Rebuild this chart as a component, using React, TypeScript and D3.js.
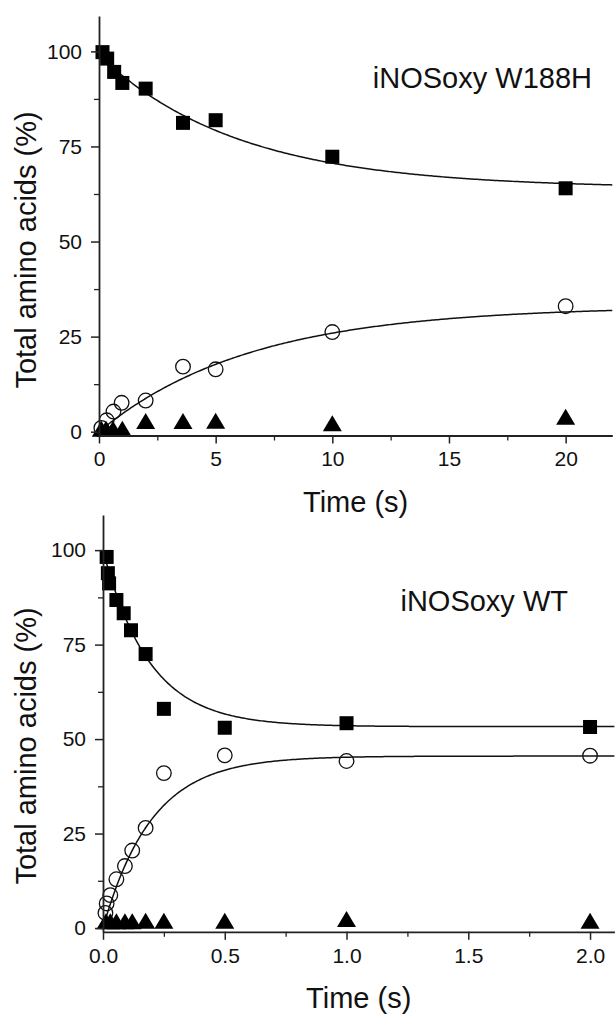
import React, { useEffect, useRef } from "react";
import * as d3 from "d3";

// Panel A: iNOSoxy W188H (time in s)
const timeW188H = [0.15, 0.35, 0.65, 1, 2, 3.6, 5, 10, 20];
const substrateW188H = [99.8, 98.1, 94.6, 91.7, 90.2, 81.2, 81.9, 72.3, 64];
const timeW188HCircle = [0.1, 0.33, 0.62, 0.97, 2, 3.6, 5, 10, 20];
const productW188H = [1, 3, 5.3, 7.6, 8.2, 17.1, 16.4, 26.2, 33];
const timeW188HTri = [0.1, 0.3, 0.6, 1, 2, 3.6, 5, 10, 20];
const minorW188H = [0.8, 0.8, 0.8, 0.8, 2.8, 2.8, 2.9, 2.2, 3.9];

// Panel B: iNOSoxy WT (time in s)
const timeWT = [0.015, 0.02, 0.025, 0.055, 0.085, 0.115, 0.175, 0.25, 0.5, 1, 2];
const substrateWT = [98.2, 93.9, 91.2, 86.8, 83.3, 78.8, 72.5, 58, 53, 54.2, 53.2];
const timeWTCircle = [0.01, 0.015, 0.03, 0.055, 0.09, 0.12, 0.175, 0.25, 0.5, 1, 2];
const productWT = [4, 6.5, 8.7, 12.9, 16.4, 20.5, 26.5, 41, 45.7, 44.2, 45.6];
const timeWTTri = [0.012, 0.03, 0.055, 0.09, 0.12, 0.175, 0.25, 0.5, 1, 2];
const minorWT = [1.8, 1.8, 1.8, 1.8, 1.8, 1.9, 1.9, 1.9, 2.4, 1.9];

// Single-exponential fit parameters: [plateau, amplitude, tau (s)]
const fitSubstrateW188H = [64, 35, 6];
const fitProductW188H = [33, 33, 6.5];
const fitSubstrateWT = [53.3, 46.7, 0.19];
const fitProductWT = [45.5, 45.5, 0.2];

const yTicks = [0, 25, 50, 75, 100];
const xTicksW188H = [0, 5, 10, 15, 20];
const xTicksWT = [0, 0.5, 1.0, 1.5, 2.0];

const FONT = "Arial, 'Liberation Sans', Helvetica, sans-serif";

type PanelProps = {
  xDomain: [number, number];
  xRange: [number, number];
  yRange: [number, number];
  xTicks: number[];
  xMinorStep: number;
  xFormat: (v: number) => string;
  sq: [number[], number[]];
  ci: [number[], number[]];
  tr: [number[], number[]];
  fitDown: number[];
  fitUp: number[];
  label: string;
  labelX: number;
  labelY: number;
  titleY: number;
  yTitleCenter: number;
};

function Panel(p: PanelProps) {
  const xAxisRef = useRef<SVGGElement>(null);
  const yAxisRef = useRef<SVGGElement>(null);
  const xMinRef = useRef<SVGGElement>(null);
  const yMinRef = useRef<SVGGElement>(null);

  const x = d3.scaleLinear().domain(p.xDomain).range(p.xRange);
  const y = d3.scaleLinear().domain([-1, 109.3]).range(p.yRange);

  useEffect(() => {
    const xa = d3
      .axisBottom(x)
      .tickValues(p.xTicks)
      .tickFormat((d) => p.xFormat(d as number))
      .tickSize(8)
      .tickSizeOuter(0)
      .tickPadding(8);
    const ya = d3
      .axisLeft(y)
      .tickValues(yTicks)
      .tickSize(8)
      .tickSizeOuter(0)
      .tickPadding(9);
    const xMinor = d3.range(p.xDomain[0], p.xDomain[1] + 1e-9, p.xMinorStep).filter(
      (v) => !p.xTicks.some((t) => Math.abs(t - v) < 1e-9)
    );
    const yMinor = [12.5, 37.5, 62.5, 87.5];
    const style = (g: d3.Selection<SVGGElement, unknown, null, undefined>) => {
      g.selectAll("path").attr("stroke", "#222").attr("stroke-width", 1.8);
      g.selectAll("line").attr("stroke", "#222").attr("stroke-width", 1.5);
      g.selectAll("text")
        .attr("fill", "#111")
        .style("font-family", FONT)
        .style("font-size", "21px");
    };
    const gx = d3.select(xAxisRef.current!);
    gx.call(xa as any);
    style(gx as any);
    const gy = d3.select(yAxisRef.current!);
    gy.call(ya as any);
    style(gy as any);
    const gxm = d3.select(xMinRef.current!);
    gxm.call(d3.axisBottom(x).tickValues(xMinor).tickSize(5).tickFormat(() => "") as any);
    gxm.select("path").remove();
    gxm.selectAll("line").attr("stroke", "#222").attr("stroke-width", 1.3);
    const gym = d3.select(yMinRef.current!);
    gym.call(d3.axisLeft(y).tickValues(yMinor).tickSize(5).tickFormat(() => "") as any);
    gym.select("path").remove();
    gym.selectAll("line").attr("stroke", "#222").attr("stroke-width", 1.3);
  });

  const fit = (par: number[], rising: boolean) => {
    const [plateau, amp, tau] = par;
    const n = 300;
    const pts: [number, number][] = [];
    for (let i = 0; i <= n; i++) {
      const t = p.xDomain[0] + ((p.xDomain[1] - p.xDomain[0]) * i) / n;
      const v = rising ? plateau - amp * Math.exp(-t / tau) : plateau + amp * Math.exp(-t / tau);
      pts.push([t, v]);
    }
    return d3
      .line<[number, number]>()
      .x((d) => x(d[0]))
      .y((d) => y(d[1]))(pts) as string;
  };

  const yBase = p.yRange[0];
  const xLeft = p.xRange[0];
  const sqSize = 14;
  const triW = 19;
  const triH = 16;

  return (
    <g>
      <path d={fit(p.fitDown, false)} fill="none" stroke="#111" strokeWidth={1.5} />
      <path d={fit(p.fitUp, true)} fill="none" stroke="#111" strokeWidth={1.5} />
      {p.ci[0].map((t, i) => (
        <circle key={"c" + i} cx={x(t)} cy={y(p.ci[1][i])} r={7.3} fill="none" stroke="#111" strokeWidth={1.3} />
      ))}
      {p.tr[0].map((t, i) => {
        const cx = x(t);
        const cy = y(p.tr[1][i]);
        return (
          <path
            key={"t" + i}
            d={`M${cx},${cy - triH / 2}L${cx + triW / 2},${cy + triH / 2}L${cx - triW / 2},${cy + triH / 2}Z`}
            fill="#000"
          />
        );
      })}
      {p.sq[0].map((t, i) => (
        <rect
          key={"s" + i}
          x={x(t) - sqSize / 2}
          y={y(p.sq[1][i]) - sqSize / 2}
          width={sqSize}
          height={sqSize}
          fill="#000"
        />
      ))}
      <g ref={xMinRef} transform={`translate(0,${yBase})`} />
      <g ref={yMinRef} transform={`translate(${xLeft},0)`} />
      <g ref={xAxisRef} transform={`translate(0,${yBase})`} />
      <g ref={yAxisRef} transform={`translate(${xLeft},0)`} />
      <text
        x={(p.xRange[0] + p.xRange[1]) / 2}
        y={p.titleY}
        textAnchor="middle"
        fontFamily={FONT}
        fontSize={29}
        fill="#111"
      >
        Time (s)
      </text>
      <text
        transform={`translate(36,${p.yTitleCenter}) rotate(-90)`}
        textAnchor="middle"
        fontFamily={FONT}
        fontSize={29}
        fill="#111"
      >
        Total amino acids (%)
      </text>
      <text x={p.labelX} y={p.labelY} textAnchor="end" fontFamily={FONT} fontSize={29} fill="#111">
        {p.label}
      </text>
    </g>
  );
}

export default function App() {
  return (
    <svg
      width={615}
      height={1016}
      viewBox="0 0 615 1016"
      style={{ position: "absolute", left: 0, top: 0, background: "#fff" }}
    >
      <rect width={615} height={1016} fill="#fff" />
      <Panel
        xDomain={[0, 22]}
        xRange={[99, 612.3]}
        yRange={[435.5, 16]}
        xTicks={xTicksW188H}
        xMinorStep={2.5}
        xFormat={(v) => String(v)}
        sq={[timeW188H, substrateW188H]}
        ci={[timeW188HCircle, productW188H]}
        tr={[timeW188HTri, minorW188H]}
        fitDown={fitSubstrateW188H}
        fitUp={fitProductW188H}
        label="iNOSoxy W188H"
        labelX={592}
        labelY={88}
        titleY={512}
        yTitleCenter={250}
      />
      <Panel
        xDomain={[0, 2.1]}
        xRange={[103, 614.4]}
        yRange={[931.8, 515]}
        xTicks={xTicksWT}
        xMinorStep={0.25}
        xFormat={(v) => v.toFixed(1)}
        sq={[timeWT, substrateWT]}
        ci={[timeWTCircle, productWT]}
        tr={[timeWTTri, minorWT]}
        fitDown={fitSubstrateWT}
        fitUp={fitProductWT}
        label="iNOSoxy WT"
        labelX={568}
        labelY={611}
        titleY={1008}
        yTitleCenter={746}
      />
    </svg>
  );
}
